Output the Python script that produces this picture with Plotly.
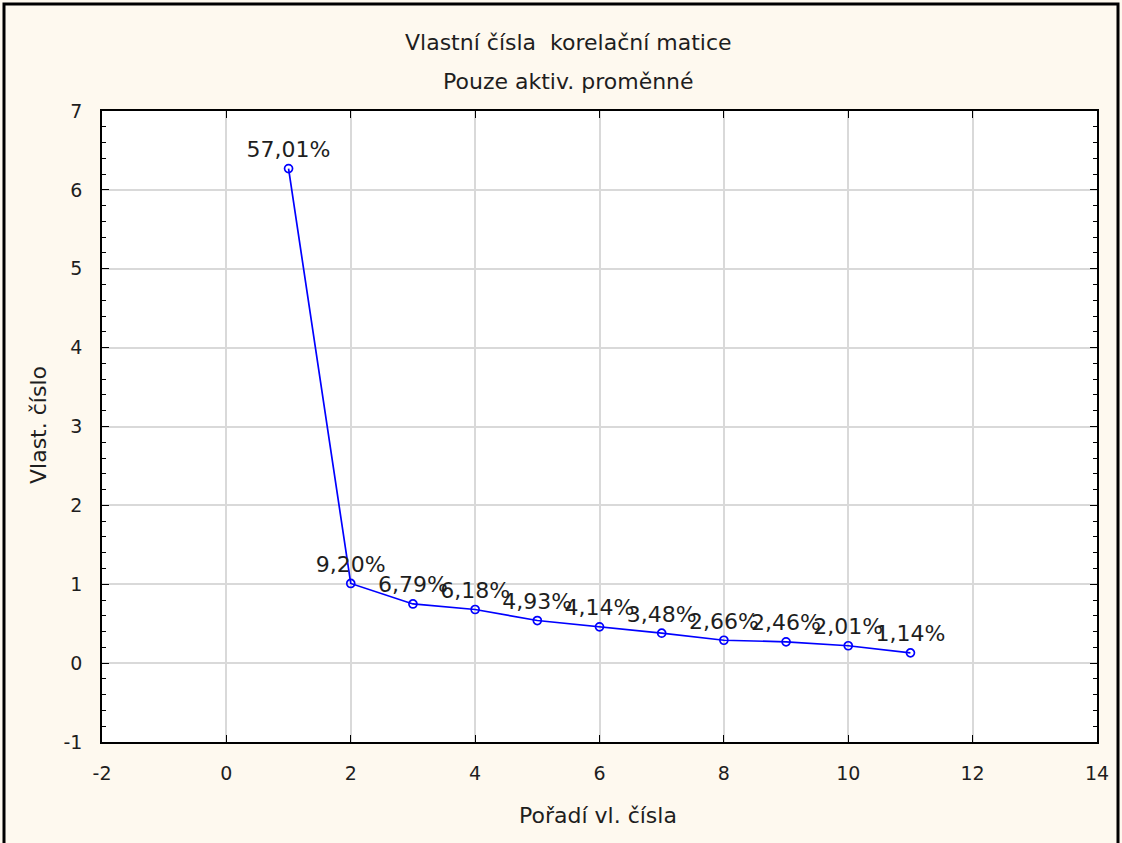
import plotly.graph_objects as go

# Scree plot data: component order, eigenvalues, explained variance labels
poradi = [1, 2, 3, 4, 5, 6, 7, 8, 9, 10, 11]
vlastni_cisla = [6.27, 1.01, 0.75, 0.68, 0.54, 0.46, 0.38, 0.29, 0.27, 0.22, 0.13]
procenta = ["57,01%", "9,20%", "6,79%", "6,18%", "4,93%", "4,14%",
            "3,48%", "2,66%", "2,46%", "2,01%", "1,14%"]

x_ticks = [-2, 0, 2, 4, 6, 8, 10, 12, 14]
y_ticks = [-1, 0, 1, 2, 3, 4, 5, 6, 7]

FONT = "DejaVu Sans, Verdana, sans-serif"
TXT = "#1E1E1E"
BG = "#FEF9EF"

# plot area in pixels (left, right, top, bottom)
L, R, T, B = 102, 1097, 111, 742
W, H = 1122, 843


def px_x(x):
    return (x - L) / (R - L)


def px_y(y):
    return (B - y) / (B - T)


fig = go.Figure()
fig.add_trace(go.Scatter(
    x=poradi, y=vlastni_cisla, mode="lines+markers+text",
    text=procenta, textposition="top center",
    textfont=dict(family=FONT, size=22, color=TXT),
    line=dict(color="#0000FF", width=1.7),
    marker=dict(symbol="circle-open", size=8, color="#0000FF", line=dict(width=1.7)),
    cliponaxis=False, showlegend=False,
))

axis_common = dict(
    showline=True, linecolor="black", linewidth=1.5, mirror="allticks",
    ticks="inside", ticklen=7, tickcolor="black", tickwidth=1,
    showgrid=True, gridcolor="#D9D9D9", gridwidth=1.5, zeroline=False,
    tickfont=dict(family=FONT, size=19, color=TXT),
)

fig.update_xaxes(range=[-2, 14], tickvals=x_ticks, ticktext=[str(v) for v in x_ticks],
                 ticklabelstandoff=13, **axis_common)
fig.update_yaxes(range=[-1, 7], tickvals=y_ticks, ticktext=[str(v) for v in y_ticks],
                 minor=dict(dtick=0.2, ticks="inside", ticklen=4, tickcolor="black", showgrid=False),
                 ticklabelstandoff=14, **axis_common)

# Two-line chart heading
fig.add_annotation(text="Vlastní čísla  korelační matice", xref="paper", yref="paper",
                   x=px_x(568), y=px_y(42), showarrow=False, yanchor="middle",
                   font=dict(family=FONT, size=22, color=TXT))
fig.add_annotation(text="Pouze aktiv. proměnné", xref="paper", yref="paper",
                   x=px_x(568), y=px_y(81), showarrow=False, yanchor="middle",
                   font=dict(family=FONT, size=22, color=TXT))

# Axis titles
fig.add_annotation(text="Pořadí vl. čísla", xref="paper", yref="paper",
                   x=px_x(598), y=px_y(815), showarrow=False, yanchor="middle",
                   font=dict(family=FONT, size=22, color=TXT))
fig.add_annotation(text="Vlast. číslo", xref="paper", yref="paper",
                   x=px_x(38), y=px_y(425), showarrow=False, textangle=-90,
                   xanchor="center", yanchor="middle",
                   font=dict(family=FONT, size=22, color=TXT))

# Outer frame around the whole chart
fig.add_shape(type="rect", xref="paper", yref="paper",
              x0=px_x(4), x1=px_x(1118), y0=-0.3, y1=px_y(4),
              line=dict(color="black", width=3), fillcolor="rgba(0,0,0,0)", layer="below")

fig.update_layout(
    width=W, height=H,
    margin=dict(l=L, r=W - R, t=T, b=H - B),
    paper_bgcolor=BG, plot_bgcolor="white",
    font=dict(family=FONT),
)

fig.write_html("out.html")
